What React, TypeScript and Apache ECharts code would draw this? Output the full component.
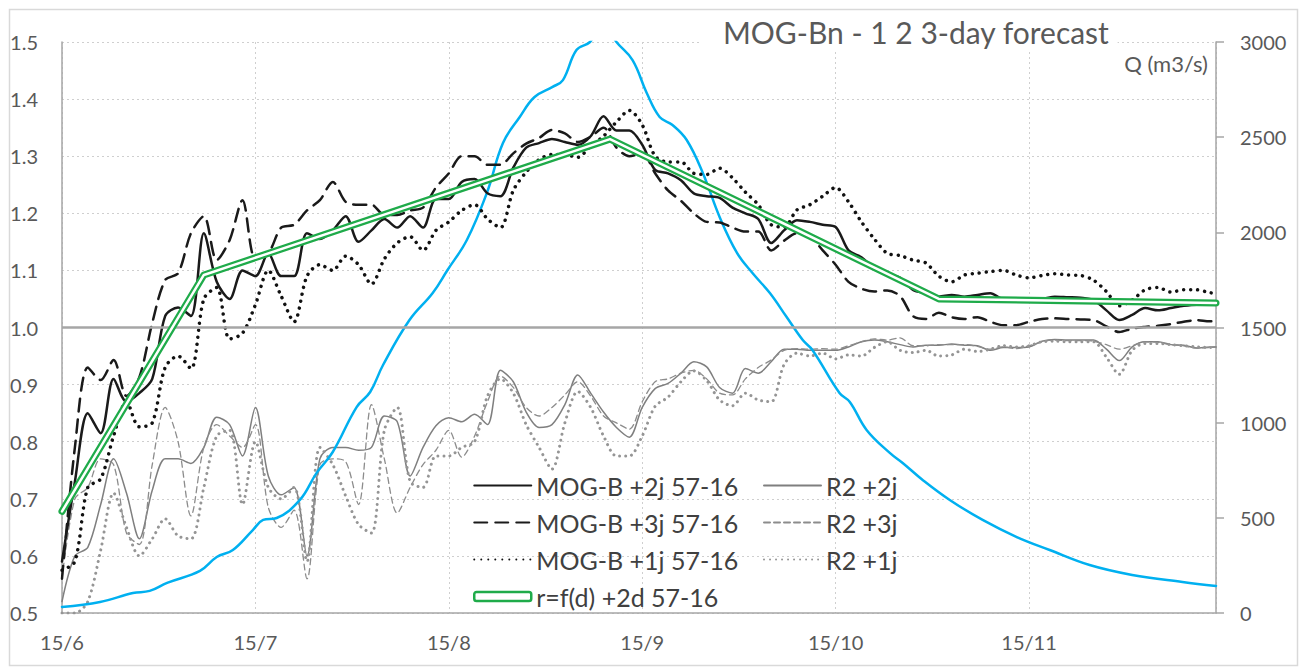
import React, { useEffect, useRef } from 'react';
import * as echarts from 'echarts';

// x positions: days after 15/6 (every 2 days, plus last day)
const sampleDays: number[] = [...Array.from({ length: 90 }, (_, i) => i * 2), 179];
const tickLabels = ['15/6', '15/7', '15/8', '15/9', '15/10', '15/11'];

const mogB2j = [0.59, 0.73, 0.85, 0.815, 0.91, 0.87, 0.885, 0.91, 1.02, 1.035, 1.02, 1.165, 1.08, 1.05, 1.10, 1.09, 1.13, 1.09, 1.09, 1.165,
  1.155, 1.17, 1.195, 1.15, 1.17, 1.19, 1.175, 1.195, 1.175, 1.225, 1.225, 1.255, 1.26, 1.235, 1.23, 1.28, 1.315, 1.323, 1.33, 1.325,
  1.32, 1.335, 1.37, 1.345, 1.345, 1.32, 1.276, 1.27, 1.258, 1.235, 1.23, 1.227, 1.21, 1.2, 1.19, 1.148, 1.17, 1.188, 1.185, 1.18,
  1.176, 1.135, 1.123, 1.104, 1.095, 1.087, 1.066, 1.06, 1.054, 1.057, 1.054, 1.057, 1.06, 1.05, 1.05, 1.05, 1.05, 1.054, 1.053, 1.052,
  1.048, 1.03, 1.013, 1.022, 1.034, 1.03, 1.034, 1.038, 1.04, 1.04, 1.04];

const mogB3j = [0.56, 0.79, 0.93, 0.908, 0.943, 0.88, 0.913, 1.008, 1.083, 1.095, 1.165, 1.195, 1.118, 1.153, 1.223, 1.12, 1.13, 1.175, 1.18, 1.205,
  1.223, 1.255, 1.22, 1.215, 1.215, 1.197, 1.197, 1.205, 1.21, 1.245, 1.27, 1.30, 1.30, 1.285, 1.285, 1.305, 1.322, 1.332, 1.346, 1.34,
  1.325, 1.334, 1.35, 1.315, 1.30, 1.305, 1.27, 1.24, 1.222, 1.2, 1.185, 1.184, 1.175, 1.168, 1.168, 1.135, 1.152, 1.165, 1.16, 1.135,
  1.11, 1.08, 1.068, 1.063, 1.065, 1.055, 1.02, 1.015, 1.026, 1.018, 1.015, 1.018, 1.01, 1.004, 1.004, 1.01, 1.015, 1.016, 1.015, 1.014,
  1.013, 1.002, 0.992, 0.998, 1.001, 1.003, 1.006, 1.01, 1.013, 1.011, 1.011];

const mogB1j = [0.575, 0.59, 0.72, 0.735, 0.81, 0.87, 0.826, 0.833, 0.93, 0.95, 0.928, 1.05, 1.07, 0.98, 0.99, 1.04, 1.1, 1.055, 1.01, 1.09,
  1.11, 1.1, 1.125, 1.11, 1.076, 1.12, 1.148, 1.159, 1.135, 1.17, 1.185, 1.205, 1.215, 1.19, 1.175, 1.24, 1.272, 1.294, 1.303, 1.303,
  1.298, 1.318, 1.335, 1.36, 1.38, 1.355, 1.30, 1.29, 1.29, 1.27, 1.268, 1.279, 1.262, 1.237, 1.215, 1.18, 1.176, 1.206, 1.215, 1.23,
  1.245, 1.22, 1.185, 1.155, 1.13, 1.126, 1.118, 1.113, 1.09, 1.08, 1.092, 1.095, 1.098, 1.1, 1.092, 1.087, 1.091, 1.094, 1.092, 1.091,
  1.083, 1.063, 1.038, 1.048, 1.066, 1.07, 1.062, 1.066, 1.066, 1.061, 1.06];

const r2p2j = [0.52, 0.6, 0.615, 0.69, 0.77, 0.71, 0.63, 0.715, 0.77, 0.77, 0.762, 0.79, 0.843, 0.83, 0.775, 0.86, 0.74, 0.707, 0.72, 0.6,
  0.77, 0.79, 0.79, 0.785, 0.79, 0.845, 0.835, 0.74, 0.79, 0.828, 0.842, 0.835, 0.848, 0.83, 0.925, 0.905, 0.852, 0.825, 0.83, 0.865,
  0.917, 0.885, 0.852, 0.825, 0.808, 0.86, 0.893, 0.902, 0.92, 0.94, 0.931, 0.895, 0.885, 0.928, 0.92, 0.94, 0.962, 0.962, 0.96, 0.96,
  0.96, 0.966, 0.975, 0.978, 0.975, 0.97, 0.966, 0.969, 0.969, 0.971, 0.969, 0.968, 0.96, 0.965, 0.965, 0.966, 0.976, 0.979, 0.978, 0.978,
  0.978, 0.962, 0.942, 0.966, 0.975, 0.975, 0.97, 0.969, 0.964, 0.966, 0.966];

const r2p3j = [0.56, 0.7, 0.72, 0.77, 0.76, 0.64, 0.62, 0.76, 0.86, 0.8, 0.67, 0.79, 0.83, 0.81, 0.79, 0.83, 0.685, 0.65, 0.68, 0.56,
  0.76, 0.77, 0.765, 0.69, 0.865, 0.77, 0.675, 0.72, 0.76, 0.785, 0.82, 0.773, 0.81, 0.87, 0.915, 0.895, 0.86, 0.845, 0.86, 0.882,
  0.905, 0.88, 0.845, 0.833, 0.822, 0.87, 0.905, 0.91, 0.92, 0.925, 0.91, 0.885, 0.882, 0.91, 0.93, 0.943, 0.96, 0.963, 0.962, 0.963,
  0.962, 0.968, 0.975, 0.98, 0.978, 0.982, 0.968, 0.968, 0.97, 0.97, 0.97, 0.967, 0.962, 0.966, 0.963, 0.968, 0.975, 0.978, 0.977, 0.977,
  0.976, 0.97, 0.962, 0.968, 0.975, 0.974, 0.97, 0.968, 0.964, 0.965, 0.966];

const r2p1j = [0.5, 0.5, 0.52, 0.61, 0.71, 0.65, 0.6, 0.63, 0.665, 0.635, 0.63, 0.72, 0.81, 0.82, 0.69, 0.8, 0.72, 0.7, 0.72, 0.59,
  0.79, 0.76, 0.705, 0.655, 0.64, 0.82, 0.86, 0.73, 0.72, 0.775, 0.775, 0.79, 0.8, 0.88, 0.91, 0.885, 0.83, 0.79, 0.752, 0.833,
  0.888, 0.86, 0.81, 0.775, 0.775, 0.81, 0.862, 0.878, 0.905, 0.924, 0.907, 0.873, 0.863, 0.885, 0.873, 0.87, 0.935, 0.955, 0.95, 0.955,
  0.945, 0.952, 0.95, 0.965, 0.975, 0.96, 0.956, 0.96, 0.95, 0.952, 0.962, 0.958, 0.962, 0.968, 0.966, 0.968, 0.975, 0.976, 0.975, 0.975,
  0.975, 0.948, 0.918, 0.96, 0.972, 0.972, 0.97, 0.968, 0.966, 0.965, 0.966];

const rfdDays = [0, 22, 85, 136, 179];
const rfdValues = [0.678, 1.092, 1.33, 1.05, 1.043];

const qDays = [0, 5.9, 11, 13.6, 16.3, 21.4, 24, 26.5, 29.6, 31.2, 33.3, 36.9, 39.5, 42, 45.7, 47.8, 49.8, 53.9, 57.5, 59.8,
  62.8, 65.9, 68.4, 71, 73.3, 76.1, 77.7, 79.8, 81.9, 84, 86, 88.5, 90.7, 92.7, 94.7, 96.9, 99.4, 102, 104.7, 107.1,
  109.8, 112.4, 114.9, 116.4, 120.6, 122.2, 124.8, 128.4, 130.4, 133.5, 137.7, 142.8, 148.1, 153.2, 159.4, 166, 173.8, 179];
const qValues = [32, 58, 105, 116, 158, 221, 294, 331, 436, 489, 499, 594, 736, 846, 1082, 1161, 1303, 1539, 1681, 1802,
  1960, 2207, 2469, 2606, 2711, 2764, 2800, 2958, 3000, 3100, 3000, 2905, 2732, 2606, 2564, 2485, 2312, 2081, 1892, 1786,
  1681, 1555, 1434, 1382, 1156, 1109, 962, 841, 788, 699, 594, 489, 399, 331, 252, 200, 163, 142];

const pair = (days: number[], vals: number[]) => vals.map((v, i) => [days[i], v]);

const FONT = 'Lato';
const TXT = '#595959';
const GREEN = '#1fab4a';

export default function App() {
  const ref = useRef<HTMLDivElement>(null);
  useEffect(() => {
    const chart = echarts.init(ref.current as HTMLDivElement, null, { renderer: 'svg' });
    const line = (name: string, data: number[][], color: string, width: number, type: any, z: number, extra: any = {}) => ({
      type: 'line', name, data, symbol: 'none', showSymbol: false, smooth: 0.3, z, silent: true,
      lineStyle: { color, width, type, cap: 'round', join: 'round' }, itemStyle: { color }, ...extra,
    });
    const legendText = { fontFamily: FONT, fontSize: 25, color: '#404040' };
    const legendBase = {
      orient: 'vertical', top: 473, padding: 0, itemGap: 12, itemWidth: 57, itemHeight: 9, selectedMode: false,
      textStyle: legendText, itemStyle: { opacity: 0 },
    };
    chart.setOption({
      animation: false,
      backgroundColor: '#fff',
      title: {
        text: 'MOG-Bn - 1 2 3-day forecast', left: 699, top: 13, backgroundColor: '#fff', padding: [4, 8, 4, 24],
        textStyle: { fontFamily: FONT, fontSize: 30, fontWeight: 'normal', color: TXT },
      },
      grid: { left: 62, right: 88, top: 42, bottom: 56, outerBoundsMode: 'none' },
      legend: [
        {
          ...legendBase, left: 473,
          data: ['MOG-B +2j 57-16', 'MOG-B +3j 57-16', 'MOG-B +1j 57-16',
            { name: 'r=f(d) +2d 57-16', icon: 'roundRect', itemStyle: { opacity: 1, color: '#fff', borderColor: GREEN, borderWidth: 2.5 } }],
        },
        { ...legendBase, left: 763, data: ['R2 +2j', 'R2 +3j', 'R2 +1j'] },
      ],
      xAxis: {
        type: 'value', min: 0, max: 179, interval: 30,
        axisLine: { show: true, lineStyle: { color: '#a6a6a6', width: 1.5 } },
        axisTick: { show: false },
        axisLabel: {
          margin: 19, fontFamily: FONT, fontSize: 20, color: TXT,
          formatter: (v: number) => (v % 30 === 0 && tickLabels[v / 30] ? tickLabels[v / 30] : ''),
        },
        splitLine: { show: true, lineStyle: { color: '#cfcfcf', type: [2, 3], width: 1 } },
      },
      yAxis: [
        {
          type: 'value', min: 0.5, max: 1.5, interval: 0.1, position: 'left',
          axisLine: { show: true, lineStyle: { color: '#a6a6a6', width: 1.5 } },
          axisTick: { show: false },
          axisLabel: { margin: 24, fontFamily: FONT, fontSize: 20, color: TXT, formatter: (v: number) => v.toFixed(1) },
          splitLine: { show: true, lineStyle: { color: '#cfcfcf', type: [2, 3], width: 1 } },
        },
        {
          type: 'value', min: 0, max: 3000, interval: 500, position: 'right',
          axisLine: { show: true, lineStyle: { color: '#a6a6a6', width: 1.5 } },
          axisTick: { show: true, inside: false, length: 8, lineStyle: { color: '#a6a6a6', width: 1.5 } },
          axisLabel: { margin: 24, fontFamily: FONT, fontSize: 20, color: TXT, formatter: (v: number) => String(v) },
          splitLine: { show: false },
        },
      ],
      series: [
        line('R2 +2j', pair(sampleDays, r2p2j), '#7f7f7f', 1.5, 'solid', 2, {
          markLine: {
            silent: true, symbol: 'none', label: { show: false }, animation: false,
            lineStyle: { color: '#a6a6a6', width: 2.5, type: 'solid' }, data: [{ yAxis: 1.0 }],
          },
        }),
        line('R2 +3j', pair(sampleDays, r2p3j), '#8c8c8c', 1.3, [6, 4], 2),
        line('R2 +1j', pair(sampleDays, r2p1j), '#959595', 3, [0.01, 6], 2),
        line('Q', pair(qDays, qValues), '#00b0f0', 2.5, 'solid', 3, { yAxisIndex: 1, smooth: 0.4 }),
        line('MOG-B +2j 57-16', pair(sampleDays, mogB2j), '#1a1a1a', 2.5, 'solid', 4),
        line('MOG-B +3j 57-16', pair(sampleDays, mogB3j), '#1a1a1a', 2.5, [13, 8], 4),
        line('MOG-B +1j 57-16', pair(sampleDays, mogB1j), '#111111', 3.5, [0.01, 7], 4),
        line('r=f(d) +2d 57-16', pair(rfdDays, rfdValues), GREEN, 7, 'solid', 5, { smooth: false }),
        line('_inner', pair(rfdDays, rfdValues), '#ffffff', 2.5, 'solid', 6, { smooth: false }),
      ],
      graphic: [
        {
          type: 'rect', left: 7, top: 7, silent: true, z: -10,
          shape: { width: 1288, height: 656 }, style: { fill: 'none', stroke: '#d9d9d9', lineWidth: 1.5 },
        },
        {
          type: 'text', x: 1208, y: 63, silent: true, z: 10,
          style: { text: 'Q (m3/s)', fontFamily: FONT, fontSize: 22, fill: TXT, align: 'right', verticalAlign: 'middle' },
        },
      ],
    });
    return () => chart.dispose();
  }, []);
  return <div ref={ref} style={{ position: 'absolute', left: 0, top: 0, width: 1304, height: 669 }} />;
}
